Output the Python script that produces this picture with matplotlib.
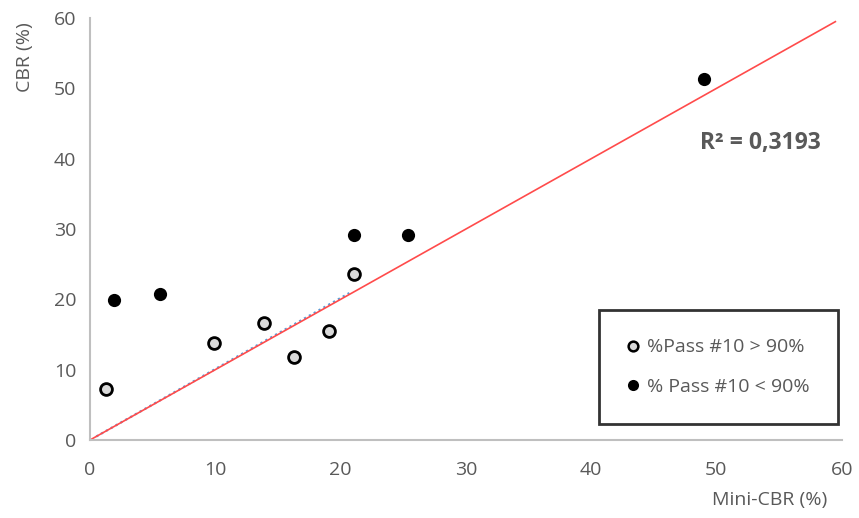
import numpy as np
import matplotlib.pyplot as plt
from matplotlib.lines import Line2D

# data
mini_hi = [1.3, 9.9, 13.9, 16.3, 19.1, 21.1]     # %Pass #10 > 90%
cbr_hi = [7.3, 13.8, 16.6, 11.8, 15.5, 23.6]
mini_lo = [1.9, 5.6, 21.1, 25.4, 49.0]            # %Pass #10 < 90%
cbr_lo = [19.9, 20.8, 29.2, 29.2, 51.3]
ref_x = [0, 59.5]                                  # 1:1 line
ref_y = [0, 59.5]
trend_x = [0.5, 20.7]
trend_y = [0.5, 20.9]
r2_text = "R² = 0,3193"

GRAY = '#595959'
plt.rcParams['font.family'] = ['Open Sans', 'DejaVu Sans']

fig = plt.figure(figsize=(8.59, 5.18), dpi=100)
ax = fig.add_axes([0.1048, 0.1506, 0.875, 0.8144])

ax.plot(ref_x, ref_y, color='#FF4B4B', linewidth=1.2, zorder=2)
ax.plot(trend_x, trend_y, color='#5B9BD5', linewidth=1.6, linestyle=(0, (1, 1.5)), zorder=1)

ax.plot(mini_hi, cbr_hi, 'o', ms=8.5, mfc='#D9D9D9', mec='black', mew=2, zorder=4)
ax.plot(mini_lo, cbr_lo, 'o', ms=9.5, mfc='black', mec='black', mew=0, zorder=4)

ax.text(53.5, 42.2, r2_text, fontsize=16.5, fontweight='bold', color=GRAY,
        ha='center', va='center')

ax.set_xlim(0, 60)
ax.set_ylim(0, 60)
ax.set_xticks(range(0, 61, 10))
ax.set_yticks(range(0, 61, 10))
ax.tick_params(length=0, labelsize=14, colors=GRAY)
ax.tick_params(axis='x', pad=15)
ax.tick_params(axis='y', pad=10)
for s in ['top', 'right']:
    ax.spines[s].set_visible(False)
for s in ['left', 'bottom']:
    ax.spines[s].set_color('#BFBFBF')
    ax.spines[s].set_linewidth(1.5)

ax.set_xlabel("Mini-CBR (%)", fontsize=14, color=GRAY)
ax.xaxis.set_label_coords(0.904, -0.122)
ax.set_ylabel("CBR (%)", fontsize=14, color=GRAY)
ax.yaxis.set_label_coords(-0.074, 0.907)

handles = [
    Line2D([0], [0], marker='o', color='w', markerfacecolor='#D9D9D9',
           markeredgecolor='black', markeredgewidth=1.8, markersize=7,
           label='%Pass #10 > 90%'),
    Line2D([0], [0], marker='o', color='w', markerfacecolor='black',
           markeredgewidth=0, markersize=8, label='% Pass #10 < 90%'),
]
leg = ax.legend(handles=handles, loc='lower right', bbox_to_anchor=(0.995, 0.038),
                fontsize=14, frameon=True, fancybox=False, edgecolor='black',
                handlelength=0.6, handletextpad=0.4, labelspacing=1.1,
                borderpad=1.45, borderaxespad=0, labelcolor=GRAY)
leg.get_frame().set_linewidth(2)

fig.savefig('out.png', dpi=100, facecolor='white')
